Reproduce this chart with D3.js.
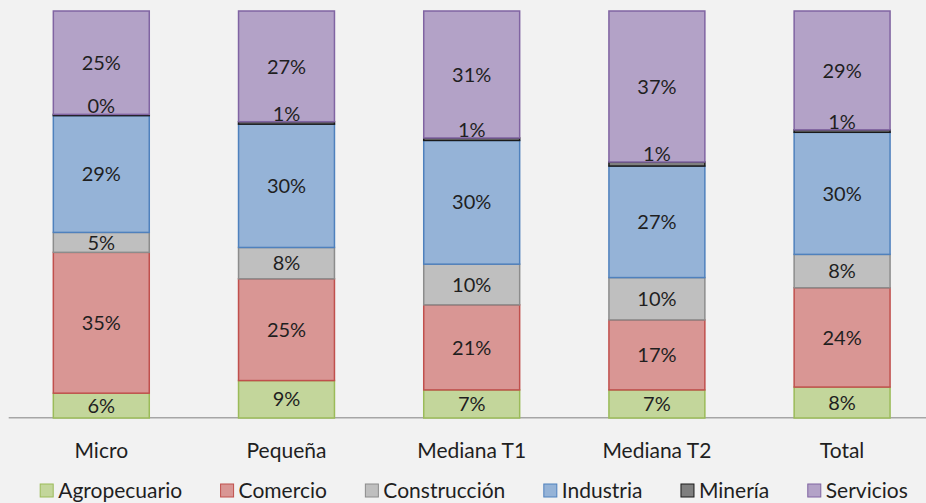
<!DOCTYPE html>
<html>
<head>
<meta charset="utf-8">
<script src="https://cdn.jsdelivr.net/npm/d3@7"></script>
<style>
  body { margin:0; background:#f2f2f2; }
  svg { display:block; font-family: Lato, "Open Sans", sans-serif; }
</style>
</head>
<body>
<div id="content"></div>
<script>
// categorias y series (porcentajes)
const categories = ["Micro", "Pequeña", "Mediana T1", "Mediana T2", "Total"];
const seriesNames = ["Agropecuario", "Comercio", "Construcción", "Industria", "Minería", "Servicios"];

const agropecuario = [6.1, 9.2, 6.9, 6.9, 7.6];
const comercio     = [34.6, 25.0, 20.9, 17.2, 24.4];
const construccion = [4.9, 7.7, 10.0, 10.4, 8.2];
const industria    = [28.7, 30.3, 30.4, 27.4, 30.0];
const mineria      = [0.3, 0.6, 0.6, 1.0, 0.6];
const servicios    = [25.4, 27.2, 31.2, 37.1, 29.2];

const fills   = ["#c3d69b", "#d99694", "#bfbfbf", "#95b3d7", "#7f7f7f", "#b3a2c7"];
const strokes = ["#9bbb59", "#c0504d", "#8c8c8c", "#4f81bd", "#1a1a1a", "#8064a2"];

const seriesValues = [agropecuario, comercio, construccion, industria, mineria, servicios];

const table = categories.map((c, i) => {
  const row = {cat: c};
  seriesNames.forEach((s, j) => row[s] = seriesValues[j][i]);
  return row;
});

const width = 926, height = 503;
const plotTop = 11, plotBottom = 418;

const svg = d3.select("#content").append("svg")
  .attr("width", width).attr("height", height);

svg.append("rect").attr("width", width).attr("height", height).attr("fill", "#f2f2f2");

const x = d3.scaleBand()
  .domain(categories)
  .range([8.7, 934.7])
  .paddingInner(0.482)
  .paddingOuter(0.241);

const y = d3.scaleLinear().domain([0, 1]).range([plotBottom, plotTop]);

const stack = d3.stack().keys(seriesNames).offset(d3.stackOffsetExpand);
const stacked = stack(table);

const fmt = d3.format(".0%");

// linea base
svg.append("line")
  .attr("x1", x.range()[0]).attr("x2", x.range()[1])
  .attr("y1", plotBottom - 0.3).attr("y2", plotBottom - 0.3)
  .attr("stroke", "#a6a6a6").attr("stroke-width", 1.5);

const cells = stacked.flatMap((s, j) => s.map((p, i) => ({p: p, j: j, i: i})));

svg.append("g").selectAll("rect")
  .data(cells)
  .enter().append("rect")
  .attr("x", d => x(categories[d.i]))
  .attr("width", x.bandwidth())
  .attr("y", d => y(d.p[1]))
  .attr("height", d => y(d.p[0]) - y(d.p[1]))
  .attr("fill", d => fills[d.j])
  .attr("stroke", d => strokes[d.j])
  .attr("stroke-width", 1.5);

// etiquetas (encima de todas las barras)
svg.append("g").selectAll("text")
  .data(cells)
  .enter().append("text")
  .attr("x", d => x(categories[d.i]) + x.bandwidth() / 2)
  .attr("y", d => seriesNames[d.j] == "Minería" ? y(d.p[1]) - 1 : (y(d.p[0]) + y(d.p[1])) / 2)
  .attr("dy", d => seriesNames[d.j] == "Minería" ? 0 : "0.36em")
  .attr("text-anchor", "middle")
  .attr("font-size", 20)
  .attr("fill", "#1f1f1f")
  .text(d => fmt(seriesValues[d.j][d.i] / 100));

// eje x
svg.selectAll(".cat")
  .data(categories)
  .enter().append("text")
  .attr("class", "cat")
  .attr("x", d => x(d) + x.bandwidth() / 2)
  .attr("y", 458)
  .attr("text-anchor", "middle")
  .attr("font-size", 21)
  .attr("fill", "#1f1f1f")
  .text(d => d);

// leyenda
const legend = svg.append("g");
const items = legend.selectAll(".item")
  .data(seriesNames)
  .enter().append("g")
  .attr("class", "item");

items.append("rect")
  .attr("y", 484).attr("width", 13).attr("height", 13)
  .attr("fill", (d, j) => fills[j])
  .attr("stroke", (d, j) => strokes[j])
  .attr("stroke-width", 1);

items.append("text")
  .attr("x", 18).attr("y", 498)
  .attr("font-size", 21)
  .attr("fill", "#1f1f1f")
  .text(d => d);

const gap = 38.5;
let pos = 0;
const offsets = [];
items.each(function(d) {
  const w = 18 + this.querySelector("text").getComputedTextLength();
  offsets.push(pos);
  pos += w + gap;
});
const totalW = pos - gap;
const startX = 474 - totalW / 2;
items.attr("transform", (d, j) => "translate(" + (startX + offsets[j]) + ",0)");
</script>
</body>
</html>
